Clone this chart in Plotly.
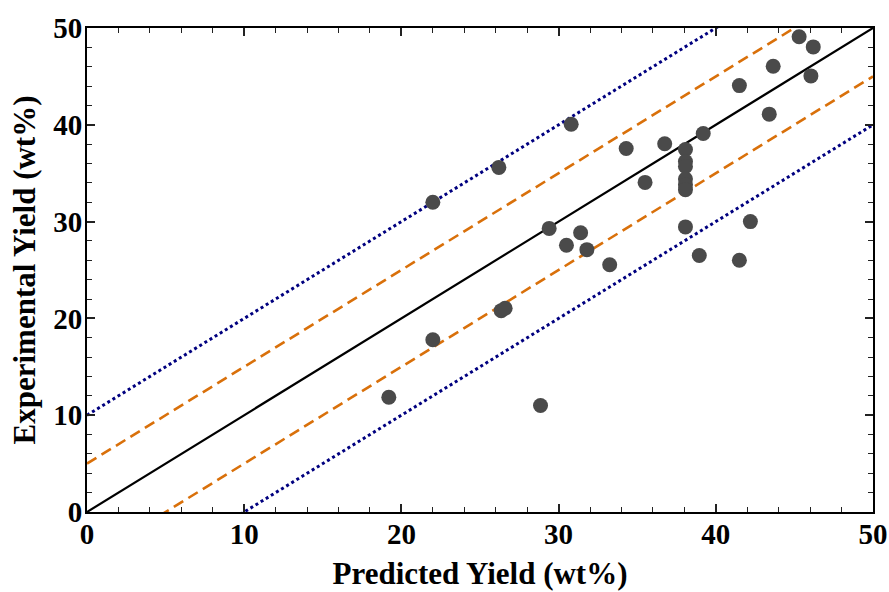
import plotly.graph_objects as go

predicted = [19.2, 22.0, 22.0, 26.2, 26.35, 26.6, 28.85, 29.4, 30.5, 30.8, 31.4, 31.8,
             33.25, 34.3, 35.5, 36.75,
             38.07, 38.07, 38.07, 38.07, 38.07, 38.07, 38.07,
             38.95, 39.2, 41.5, 41.5, 42.2, 43.4, 43.65, 45.3, 46.2, 46.05]
experimental = [11.85, 32.0, 17.8, 35.6, 20.8, 21.05, 11.0, 29.3, 27.55, 40.05, 28.85, 27.1,
                25.55, 37.55, 34.05, 38.05,
                37.45, 36.2, 35.7, 34.4, 33.8, 33.3, 29.45,
                26.5, 39.1, 44.05, 26.0, 30.0, 41.1, 46.05, 49.1, 48.05, 45.05]

line_x = [0, 50]
offsets = [0, 5, -5, 10, -10]
styles = {0: ("black", "solid", 2.2), 5: ("#d9700a", "11px,6px", 2.6), -5: ("#d9700a", "11px,6px", 2.6),
          10: ("#00007f", "3px,3px", 3), -10: ("#00007f", "3px,3px", 3)}

fig = go.Figure()
for off in offsets:
    color, dash, w = styles[off]
    fig.add_trace(go.Scatter(x=line_x, y=[v + off for v in line_x], mode="lines",
                             line=dict(color=color, dash=dash, width=w),
                             hoverinfo="skip", showlegend=False))

fig.add_trace(go.Scatter(x=predicted, y=experimental, mode="markers",
                         marker=dict(color="#4a4a4a", size=15, line=dict(width=0)),
                         cliponaxis=False, showlegend=False))

font_family = "Liberation Serif"
axis_common = dict(
    showgrid=False, zeroline=False, showline=True, linecolor="black", linewidth=2,
    mirror="allticks", ticks="inside", ticklen=8, tickwidth=1.5, tickcolor="#222",
    minor=dict(ticks="inside", ticklen=5, tickwidth=1, tickcolor="#222", dtick=2),
    tickfont=dict(family=font_family, size=29, color="black", weight="bold"),
    dtick=10, tick0=0, automargin=False,
)

fig.update_layout(
    width=889, height=592,
    margin=dict(l=87, r=16, t=28, b=80),
    paper_bgcolor="white", plot_bgcolor="white",
    xaxis=dict(range=[0, 50], title=dict(text="Predicted Yield (wt%)",
                                         font=dict(family=font_family, size=31, color="black", weight="bold"),
                                         standoff=14),
               ticklabelstandoff=-5,
               **axis_common),
    yaxis=dict(range=[0, 50], title=dict(text="Experimental Yield (wt%)",
                                         font=dict(family=font_family, size=31, color="black", weight="bold"),
                                         standoff=8),
               ticklabelstandoff=-3,
               **axis_common),
)

fig.write_html("out.html")
